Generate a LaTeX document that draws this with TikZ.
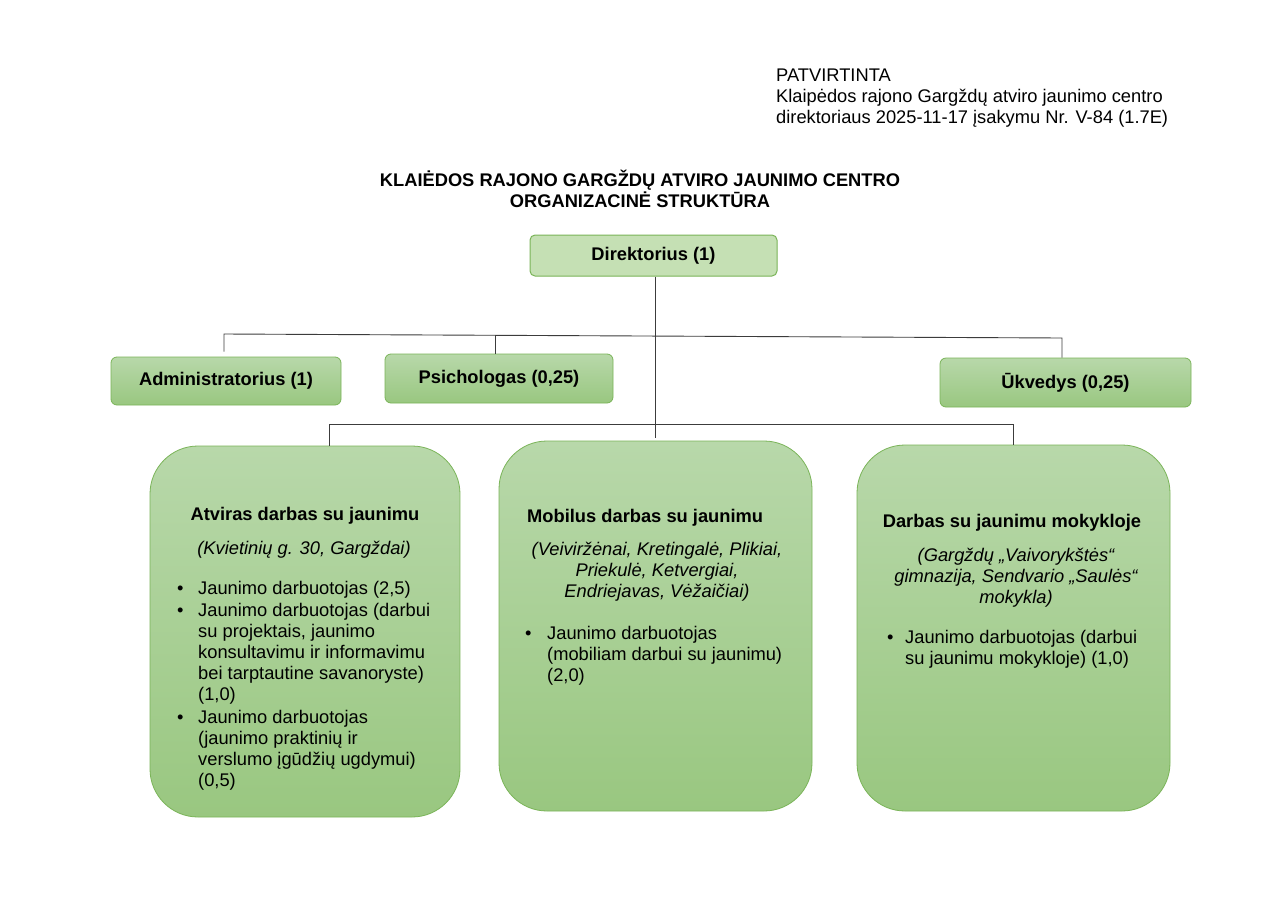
\documentclass[tikz,border=0pt]{standalone}
\usepackage{fontspec}
\setmainfont{Liberation Sans}
\definecolor{dirfill}{RGB}{197,224,180}
\definecolor{boxborder}{RGB}{122,180,88}
\definecolor{gtop}{RGB}{184,216,170}
\definecolor{gbot}{RGB}{153,199,128}
\definecolor{linecol}{RGB}{60,60,60}
\newcommand{\fs}{\fontsize{18.3}{21}\selectfont}
\begin{document}
\begin{tikzpicture}[x=1pt,y=-1pt]
\useasboundingbox[fill=white] (0,0) rectangle (1280,905);
\tikzset{
  txt/.style={inner sep=0pt, font=\fs},
  conn/.style={draw=linecol, line width=0.9pt},
  dirbox/.style={rounded corners=5pt, draw=boxborder, line width=1pt, fill=dirfill, inner sep=0pt, font=\fs\bfseries},
  smallbox/.style={rounded corners=6pt, draw=boxborder, line width=0.8pt, top color=gtop, bottom color=gbot, inner sep=0pt, font=\fs\bfseries},
  bigbox/.style={rounded corners=48pt, draw=boxborder, line width=0.8pt, top color=gtop, bottom color=gbot, inner sep=0pt}
}
\renewcommand{\arraystretch}{1}

% header texts
\node[txt, anchor=base west, align=left] (appr) at (776,81)
  {\begin{tabular}[t]{@{}l@{}}PATVIRTINTA\\
   Klaipėdos rajono Gargždų atviro jaunimo centro\\
   direktoriaus 2025-11-17 įsakymu Nr. V-84 (1.7E)\end{tabular}};
\node[txt, anchor=base, font=\fontsize{18.3}{20}\selectfont\bfseries] (title) at (640,186)
  {\begin{tabular}[t]{@{}c@{}}KLAIĖDOS RAJONO GARGŽDŲ ATVIRO JAUNIMO CENTRO\\
   ORGANIZACINĖ STRUKTŪRA\end{tabular}};

% boxes
\node[dirbox, minimum width=247pt, minimum height=41pt] (dir) at (653.5,255.5) {Direktorius (1)};
\node[smallbox, minimum width=230pt, minimum height=48pt] (adm) at (226,381) {Administratorius (1)};
\node[smallbox, minimum width=228pt, minimum height=49pt] (psy) at (499,378.5) {Psichologas (0,25)};
\node[smallbox, minimum width=251pt, minimum height=49pt] (ukv) at (1065.5,382.5) {Ūkvedys (0,25)};
\node[bigbox, minimum width=310pt, minimum height=371pt] (bl) at (305,631.5) {};
\node[bigbox, minimum width=313pt, minimum height=370pt] (bm) at (655.5,626) {};
\node[bigbox, minimum width=313pt, minimum height=366pt] (br) at (1013.5,628) {};

% connectors
\coordinate (ub1) at (224,334);
\coordinate (ub2) at (495,335.3);
\coordinate (ub3) at (1062,338);
\coordinate (lb1) at (329,424);
\coordinate (lb2) at (1013,424);
\coordinate (cend) at (655,438);
\draw[conn] (dir.south -| cend) -- (cend);
\draw[conn] (ub1 |- adm.north) ++(0,-5) -- (ub1) -- (ub3) -- (ub3 |- ukv.north);
\draw[conn] (ub2) -- (ub2 |- psy.north);
\draw[conn] (lb1 |- bl.north) -- (lb1) -- (lb2) -- (lb2 |- br.north);

% left big box text
\node[txt, anchor=base, font=\fs\bfseries] (blh) at (305,520) {Atviras darbas su jaunimu};
\node[txt, anchor=base, font=\fs\itshape] (bli) at (304,554) {(Kvietinių g. 30, Gargždai)};
\node[txt, anchor=base west] (bll) at (177,594)
  {\begin{tabular}[t]{@{}p{21pt}@{}l@{}}
   • & Jaunimo darbuotojas (2,5)\\[1pt]
   • & Jaunimo darbuotojas (darbui\\
     & su projektais, jaunimo\\
     & konsultavimu ir informavimu\\
     & bei tarptautine savanoryste)\\
     & (1,0)\\[2pt]
   • & Jaunimo darbuotojas\\
     & (jaunimo praktinių ir\\
     & verslumo įgūdžių ugdymui)\\
     & (0,5)
   \end{tabular}};

% middle big box text
\node[txt, anchor=base west, font=\fs\bfseries] (bmh) at (527,522) {Mobilus darbas su jaunimu};
\node[txt, anchor=base, font=\fs\itshape] (bmi) at (657,555)
  {\begin{tabular}[t]{@{}c@{}}(Veiviržėnai, Kretingalė, Plikiai,\\
   Priekulė, Ketvergiai,\\ Endriejavas, Vėžaičiai)\end{tabular}};
\node[txt, anchor=base west] (bml) at (525,639)
  {\begin{tabular}[t]{@{}p{22pt}@{}l@{}}
   • & Jaunimo darbuotojas\\
     & (mobiliam darbui su jaunimu)\\
     & (2,0)
   \end{tabular}};

% right big box text
\node[txt, anchor=base, font=\fs\bfseries] (brh) at (1012,527) {Darbas su jaunimu mokykloje};
\node[txt, anchor=base, font=\fs\itshape] (bri) at (1016,561)
  {\begin{tabular}[t]{@{}c@{}}(Gargždų „Vaivorykštės“\\
   gimnazija, Sendvario „Saulės“\\ mokykla)\end{tabular}};
\node[txt, anchor=base west] (brl) at (887,643)
  {\begin{tabular}[t]{@{}p{18pt}@{}l@{}}
   • & Jaunimo darbuotojas (darbui\\
     & su jaunimu mokykloje) (1,0)
   \end{tabular}};
\end{tikzpicture}
\end{document}
